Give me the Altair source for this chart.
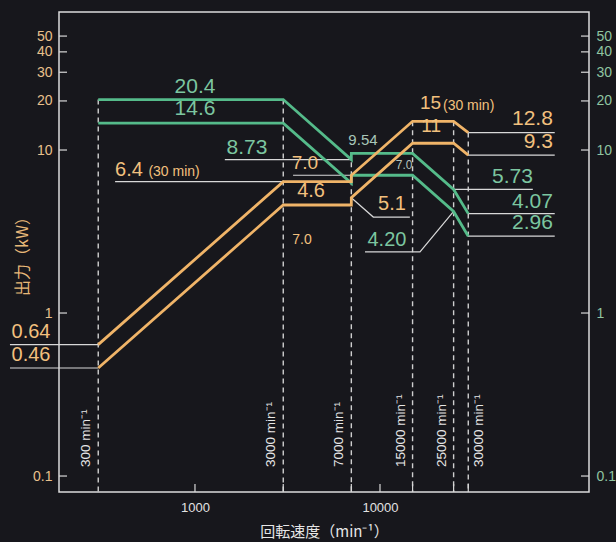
import altair as alt
import pandas as pd

# ---------------- data ----------------
# break-point speeds (min^-1) shared by the four output curves
speed = [300, 3000, 7000, 7000, 15000, 25000, 30000]
# output (kW)
green_hi = [20.4, 20.4, 8.73, 9.54, 9.54, 5.73, 4.07]
green_lo = [14.6, 14.6, 6.26, 7.0, 7.0, 4.20, 2.96]
orange_hi = [0.64, 6.4, 6.4, 7.0, 15.0, 15.0, 12.8]
orange_lo = [0.46, 4.6, 4.6, 5.1, 11.0, 11.0, 9.3]

# dashed speed markers
marker_speed = [300, 3000, 7000, 15000, 25000, 30000]
marker_top = [20.4, 20.4, 9.54, 15.0, 15.0, 12.8]
marker_text = ["300 min⁻¹", "3000 min⁻¹", "7000 min⁻¹", "15000 min⁻¹", "25000 min⁻¹", "30000 min⁻¹"]
marker_side = ["L", "L", "L", "L", "L", "R"]

# leader lines (speed, kW) point lists
leaders = [
    [(100, 0.64), (300, 0.64)],
    [(100, 0.46), (300, 0.46)],
    [(370, 6.4), (3000, 6.4)],
    [(1450, 8.73), (7000, 8.73)],
    [(3390, 7.0), (7000, 7.0)],
    [(7000, 5.1), (9200, 3.88), (14500, 3.88)],
    [(25000, 4.20), (16450, 2.37), (8300, 2.37)],
    [(30000, 12.8), (88000, 12.8)],
    [(30000, 9.3), (88000, 9.3)],
    [(25000, 5.73), (67000, 5.73)],
    [(30000, 4.07), (88000, 4.07)],
    [(30000, 2.96), (88000, 2.96)],
]

y_ticks = [0.1, 1, 10, 20, 30, 40, 50]
x_ticks = [1000, 3000, 7000, 10000, 15000, 25000, 30000]
x_labels = [1000, 10000]

X_DOM = [184.1, 134800]
Y_DOM = [0.0798, 70.25]

# ---------------- styles ----------------
BG = "#17171c"
GREEN = "#55bb8a"
GREEN_T = "#7cc6a0"
ORANGE = "#f0b468"
ORANGE_T = "#f2c07e"
WHITE = "#d8d8d8"
FONT = "Liberation Sans"
CJK = "Noto Sans CJK JP"

xs = alt.Scale(type="log", domain=X_DOM, nice=False)
ys = alt.Scale(type="log", domain=Y_DOM, nice=False)

x_axis = alt.Axis(values=x_labels, format="d", ticks=False, domain=False, grid=False,
                  labelColor="#e2e2e2", labelFont=FONT, labelFontSize=13, labelPadding=9,
                  title="回転速度（min⁻¹）", titleFont=CJK, titleFontSize=15, titleFontWeight="normal",
                  titleColor="#e6e6e6", titlePadding=10)
left_axis = alt.Axis(orient="left", values=y_ticks, format="~g", ticks=False, domain=False, grid=False,
                     labelColor="#e8c08c", labelFont=FONT, labelFontSize=14, labelPadding=7,
                     title="出力（kW）", titleFont=CJK, titleFontSize=16, titleFontWeight="normal",
                     titleColor="#e8b878", titlePadding=2)
right_axis = alt.Axis(orient="right", values=y_ticks, format="~g", ticks=False, domain=False, grid=False,
                      labelColor="#8fc4a0", labelFont=FONT, labelFontSize=14, labelPadding=7, title=None)


def X(f):
    return alt.X(f, type="quantitative", scale=xs, axis=x_axis)


def Y(f, axis=None):
    return alt.Y(f, type="quantitative", scale=ys, axis=axis)


# curves
rows = []
for name, vals in [("gh", green_hi), ("gl", green_lo), ("oh", orange_hi), ("ol", orange_lo)]:
    for i, (s, v) in enumerate(zip(speed, vals)):
        rows.append({"series": name, "i": i, "s": s, "v": v})
curves_df = pd.DataFrame(rows)

lrows = []
for k, pts in enumerate(leaders):
    for i, (s, v) in enumerate(pts):
        lrows.append({"g": k, "i": i, "s": s, "v": v})
lead_df = pd.DataFrame(lrows)

marker_df = pd.DataFrame({"s": marker_speed, "top": marker_top, "t": marker_text, "side": marker_side})

dashes = alt.Chart(marker_df).mark_rule(color="#cfcfcf", strokeWidth=1.4, strokeDash=[5, 4]).encode(
    x=X("s"), y=Y("top", left_axis), y2=alt.value(480))

rlab_l = alt.Chart(marker_df).transform_filter(alt.datum.side == "L").mark_text(
    angle=270, align="left", baseline="middle", dy=-12, color="#e6e6e6", font=FONT, fontSize=13.5
).encode(x=X("s"), y=alt.value(455), text="t")
rlab_r = alt.Chart(marker_df).transform_filter(alt.datum.side == "R").mark_text(
    angle=270, align="left", baseline="middle", dy=11, color="#e6e6e6", font=FONT, fontSize=13.5
).encode(x=X("s"), y=alt.value(455), text="t")

ytick_df = pd.DataFrame({"v": y_ticks})
xtick_df = pd.DataFrame({"v": x_ticks})
lt = alt.Chart(ytick_df).mark_rule(color=WHITE, strokeWidth=1.2).encode(
    y=Y("v"), x=alt.value(0), x2=alt.value(8))
rt = alt.Chart(ytick_df).mark_rule(color=WHITE, strokeWidth=1.2).encode(
    y=Y("v", right_axis), x=alt.value(522), x2=alt.value(530))
bt = alt.Chart(xtick_df).mark_rule(color=WHITE, strokeWidth=1.2).encode(
    x=X("v"), y=alt.value(472), y2=alt.value(480))

lead = alt.Chart(lead_df).mark_line(color=WHITE, strokeWidth=1.2).encode(
    x=X("s"), y=Y("v"), detail="g:N", order="i:Q")

curves = alt.Chart(curves_df).mark_line(strokeWidth=2.8, strokeJoin="miter").encode(
    x=X("s"), y=Y("v"), detail="series:N", order="i:Q",
    color=alt.Color("series:N", scale=alt.Scale(domain=["gh", "gl", "oh", "ol"],
                                                 range=[GREEN, GREEN, ORANGE, ORANGE]), legend=None))


def lab(t, x, y, color, size, align="center", dy=-3, baseline="bottom"):
    df = pd.DataFrame({"t": [t], "x": [x], "y": [y]})
    return alt.Chart(df).mark_text(color=color, fontSize=size, align=align, baseline=baseline,
                                   dy=dy, font=FONT).encode(x=X("x"), y=Y("y"), text="t")


labels = [
    lab("20.4", 1000, 20.4, GREEN_T, 21, dy=-3),
    lab("14.6", 1000, 14.6, GREEN_T, 21, dy=-4),
    lab("8.73", 1910, 8.73, GREEN_T, 21, dy=-2),
    lab("5.73", 67000, 5.73, GREEN_T, 21, align="right", dy=-2),
    lab("4.07", 86000, 4.07, GREEN_T, 21, align="right", dy=-2),
    lab("2.96", 86000, 2.96, GREEN_T, 21, align="right", dy=-3),
    lab("4.20", 10900, 2.37, GREEN_T, 20, dy=-2),
    lab("9.54", 8090, 9.54, "#a8c6b8", 15, dy=-5),
    lab("7.0", 13500, 7.0, "#b4c2bb", 12, dy=-3),
    lab("12.8", 86000, 12.8, ORANGE_T, 21, align="right", dy=-4),
    lab("9.3", 86000, 9.3, ORANGE_T, 21, align="right", dy=-3),
    lab("0.64", 102, 0.64, ORANGE_T, 20, align="left", dy=-3),
    lab("0.46", 102, 0.46, ORANGE_T, 20, align="left", dy=-3),
    lab("6.4", 370, 6.4, ORANGE_T, 20, align="left", dy=-2),
    lab("(30 min)", 560, 6.4, ORANGE_T, 14, align="left", dy=-3),
    lab("7.0", 3930, 7.0, ORANGE_T, 19, dy=-2),
    lab("4.6", 4240, 4.6, ORANGE_T, 20, dy=-4),
    lab("5.1", 11600, 3.88, ORANGE_T, 20, dy=-3),
    lab("15", 16450, 15.0, ORANGE_T, 19, align="left", dy=-8),
    lab("(30 min)", 21900, 15.0, ORANGE_T, 14, align="left", dy=-8),
    lab("11", 18900, 11.0, ORANGE_T, 19, dy=-7),
    lab("7.0", 3790, 2.54, ORANGE_T, 14, dy=0),
]

chart = alt.layer(
    dashes, rt, lt, bt, lead, curves, rlab_l, rlab_r, *labels
).resolve_scale(y="independent").properties(
    width=530, height=480,
    padding={"left": 59, "top": 12, "right": 27, "bottom": 50},
    autosize=alt.AutoSizeParams(type="none"),
    background=BG,
).configure_view(stroke="#dcdcdc", strokeWidth=1.5)

chart.save("out.html", embed_options={"renderer": "svg", "actions": False})
